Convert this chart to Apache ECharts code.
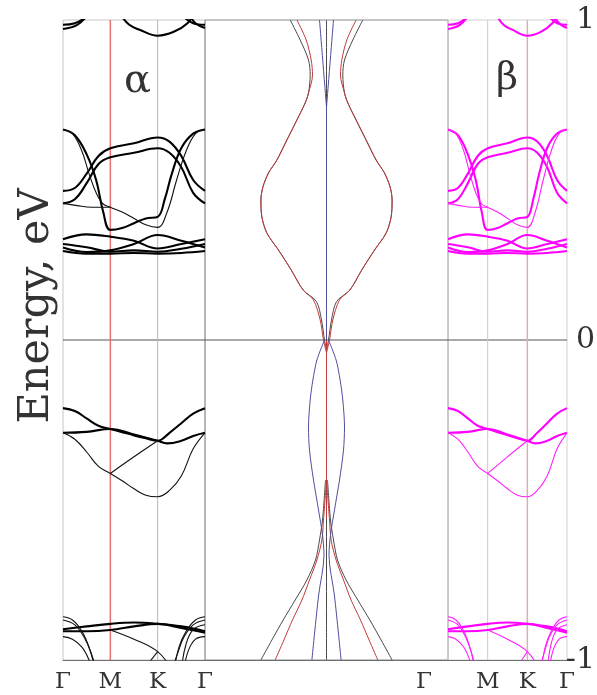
<!DOCTYPE html>
<html>
<head>
<meta charset="utf-8">
<script src="https://cdn.jsdelivr.net/npm/echarts@6/dist/echarts.min.js"></script>
<style>
  html, body { margin: 0; padding: 0; background: #fff; }
  #chart { width: 597px; height: 695px; }
</style>
</head>
<body>
<div id="chart"></div>
<script>
// k-path labels (Γ-M-K-Γ) and energy ticks
const kLabels = ['Γ', 'M', 'K', 'Γ']
const kLines = [1, 2]
const eTicks = [-1, 0, 1]

// α / β bands, x in path units (Γ=0, M=1, K=2, Γ=3), energy in eV
const bandsThick = [
  [[0, .466], [.25, .475], [.5, .52], [.75, .575], [1, .599], [1.5, .615], [2, .633], [2.25, .62], [2.5, .575], [2.75, .50], [3, .466]],
  [[0, .427], [.25, .44], [.5, .49], [.75, .55], [1, .571], [1.5, .585], [2, .599], [2.25, .585], [2.5, .54], [2.75, .46], [3, .427]],
  [[0, .658], [.25, .64], [.5, .58], [.7, .50], [.85, .40], [1, .344], [1.25, .35], [1.5, .365], [1.75, .38], [2, .385], [2.15, .44], [2.3, .52], [2.5, .60], [2.75, .645], [3, .658]],
  [[0, .30], [.5, .29], [1, .276], [1.5, .28], [2, .276], [2.5, .285], [3, .30]],
  [[0, .289], [.5, .275], [1, .28], [1.5, .30], [2, .328], [2.5, .31], [3, .289]],
  [[0, .315], [.5, .33], [1, .323], [1.5, .31], [2, .286], [2.5, .30], [3, .315]],
  [[0, .278], [.5, .27], [1, .27], [1.5, .272], [2, .27], [2.5, .272], [3, .278]],
  [[0, -.213], [.25, -.222], [.5, -.245], [.75, -.268], [1, -.278], [1.25, -.288], [1.5, -.298], [1.75, -.307], [2, -.315], [2.25, -.29], [2.5, -.26], [2.75, -.23], [3, -.213]],
  [[0, -.29], [.5, -.287], [1, -.278], [1.5, -.295], [2, -.315], [2.2, -.323], [2.5, -.315], [2.75, -.30], [3, -.29]],
  [[0, -.904], [.5, -.895], [1, -.887], [1.5, -.883], [2, -.887], [2.5, -.895], [3, -.91]],
  [[0, -.91], [.5, -.91], [1, -.906], [1.5, -.895], [2, -.887], [2.5, -.9], [3, -.915]],
  [[0, .985], [.25, .99], [.5, 1.01]],
  [[0, .972], [.3, .985], [.55, 1.02]],
  [[3, .985], [2.75, .99], [2.55, 1.01]],
  [[3, .975], [2.8, .99], [2.65, 1.02]],
  [[1.2, 1.02], [1.4, .985], [1.63, .969], [2, .951], [2.34, .963], [2.63, .99], [2.75, 1.02]]
]
const bandsThin = [
  [[0, .658], [.2, .645], [.4, .59], [.55, .52], [.7, .46], [.85, .425], [1, .415], [1.25, .40], [1.5, .38], [1.75, .36], [2, .352], [2.2, .40], [2.4, .50], [2.6, .59], [2.8, .645], [3, .658]],
  [[0, .427], [.3, .42], [.6, .415], [1, .415]],
  [[0, -.29], [.25, -.31], [.5, -.35], [.75, -.395], [1, -.417], [1.25, -.44], [1.5, -.465], [1.75, -.485], [2, -.49], [2.25, -.47], [2.5, -.425], [2.75, -.34], [3, -.29]],
  [[1, -.417], [1.5, -.365], [2, -.315]],
  [[1, -.906], [1.5, -.935], [2, -.974], [2.3, -1.03]],
  [[1.7, -1.03], [2, -.974]],
  [[0, -.865], [.2, -.875], [.4, -.91], [.55, -.96], [.68, -1.03]],
  [[0, -.875], [.25, -.89], [.45, -.93], [.6, -.98], [.7, -1.03]],
  [[0, -.927], [.2, -.935], [.4, -.96], [.55, -1.0], [.6, -1.03]],
  [[3, -.865], [2.8, -.875], [2.6, -.91], [2.45, -.96], [2.35, -1.03]],
  [[3, -.875], [2.75, -.89], [2.55, -.93], [2.42, -.98], [2.3, -1.03]],
  [[3, -.89], [2.75, -.905], [2.6, -.95], [2.5, -1.03]],
  [[3, -.927], [2.8, -.935], [2.65, -.97], [2.55, -1.03]]
]

// middle panel, x = offset from centre line
const midBlack = [
  [[-36.3, 1], [-26.3, .9375], [-18, .875], [-16.3, .828], [-18, .772], [-21.3, .741], [-29.6, .6875], [-39.6, .625], [-49.6, .5625], [-58, .522], [-63.6, .478], [-65.6, .4375], [-64.6, .384], [-59.6, .334], [-48, .281], [-35.3, .219], [-23.3, .156], [-10, .12], [-5, .0625], [-2, 0], [0, -.03]],
  [[36.3, 1], [26.3, .9375], [18, .875], [16.3, .828], [18, .772], [21.3, .741], [29.6, .6875], [39.6, .625], [49.6, .5625], [58, .522], [63.6, .478], [65.6, .4375], [64.6, .384], [59.6, .334], [48, .281], [35.3, .219], [23.3, .156], [10, .12], [5, .0625], [2, 0], [0, -.03]],
  [[-1, -.4375], [-4, -.5625], [-7, -.625], [-11, -.6875], [-19.6, -.75], [-31.3, -.8125], [-43.3, -.875], [-54.6, -.9375], [-65.6, -1]],
  [[1, -.4375], [4, -.5625], [7, -.625], [11, -.6875], [19.6, -.75], [31.3, -.8125], [43.3, -.875], [54.6, -.9375], [65.6, -1]],
  [[0, 1], [0, -1]]
]
const midRed = [
  [[-29.6, 1], [-20.3, .9375], [-15.3, .875], [-14, .828], [-18, .772], [-21.3, .741], [-29.6, .6875], [-39.6, .625], [-49.6, .5625], [-58, .522], [-63.6, .478], [-65.6, .4375], [-64.6, .384], [-59.6, .334], [-48, .281], [-35.3, .219], [-23.3, .156], [-13, .125], [-6.3, .0625], [-3, 0], [0, -.04]],
  [[29.6, 1], [20.3, .9375], [15.3, .875], [14, .828], [18, .772], [21.3, .741], [29.6, .6875], [39.6, .625], [49.6, .5625], [58, .522], [63.6, .478], [65.6, .4375], [64.6, .384], [59.6, .334], [48, .281], [35.3, .219], [23.3, .156], [13, .125], [6.3, .0625], [3, 0], [0, -.04]],
  [[0, -.4375], [-3, -.5625], [-4.6, -.625], [-9.6, -.6875], [-17, -.75], [-24.6, -.8125], [-34, -.875], [-42.6, -.9375], [-51.3, -1]],
  [[0, -.4375], [3, -.5625], [4.6, -.625], [9.6, -.6875], [17, -.75], [24.6, -.8125], [34, -.875], [42.6, -.9375], [51.3, -1]],
  [[0, 0], [0, -.56]]
]
const midBlue = [
  [[-7, 1], [0, .728]],
  [[7, 1], [0, .728]],
  [[0, .728], [0, 0]],
  [[-2, 0], [-9.6, -.0625], [-13.6, -.125], [-16.3, -.1875], [-18, -.272], [-17, -.344], [-13, -.4375], [-8, -.531], [-4, -.609], [-2.5, -.672], [-8, -.8], [-14.6, -1]],
  [[2, 0], [9.6, -.0625], [13.6, -.125], [16.3, -.1875], [18, -.272], [17, -.344], [13, -.4375], [8, -.531], [4, -.609], [2.5, -.672], [8, -.8], [14.6, -1]]
]

const serif = 'DejaVu Serif'
const chart = echarts.init(document.getElementById('chart'))

const line = (data, gi, color, width, smooth = 0.4, z = 3) => ({
  type: 'line', xAxisIndex: gi, yAxisIndex: gi, data, symbol: 'none', silent: true,
  smooth, z, lineStyle: { color, width }
})

const series = []
// zero line
series.push(line([[0, 0], [3, 0]], 0, '#555', 1, false, 1))
series.push(line([[-121.5, 0], [121.5, 0]], 1, '#555', 1, false, 1))
series.push(line([[0, 0], [3, 0]], 2, '#555', 1, false, 1))
// M and K lines
series.push(line([[kLines[0], -1], [kLines[0], 1]], 0, '#e57373', 1.5, false, 1))
series.push(line([[kLines[1], -1], [kLines[1], 1]], 0, '#dba7ae', 1, false, 1))
series.push(line([[kLines[0], -1], [kLines[0], 1]], 2, '#f3b9b9', 1, false, 1))
series.push(line([[kLines[1], -1], [kLines[1], 1]], 2, '#dcb0b0', 1.5, false, 1))
// α (black) and β (magenta)
bandsThick.forEach(b => {
  series.push(line(b, 0, '#000', 2.1))
  series.push(line(b, 2, '#ff00ff', 2.1))
})
bandsThin.forEach(b => {
  series.push(line(b, 0, '#111', 1.1))
  series.push(line(b, 2, '#ff22ff', 1.1))
})
// middle panel
midBlack.forEach(b => series.push(line(b, 1, '#4a4a4a', 1, 0.3)))
midRed.forEach(b => series.push(line(b, 1, '#c23b3b', 1, 0.3)))
midBlue.forEach(b => series.push(line(b, 1, '#4f4f9e', 1, 0.3)))

const xBase = {
  type: 'value', interval: 1, splitLine: { show: false }, axisTick: { show: false },
  axisLine: { show: true, onZero: false, lineStyle: { color: '#6f6f6f', width: 1 } }
}
const yBase = {
  type: 'value', min: -1, max: 1, interval: 1, splitLine: { show: false },
  axisTick: { show: false }, axisLine: { show: false }, axisLabel: { show: false }
}
const labelStyle = { fontFamily: serif, fontSize: 23, color: '#333', margin: 11 }
const gridBase = { top: 20, height: 640, show: true, borderWidth: 1, containLabel: false, outerBoundsMode: 'none' }

const option = {
  animation: false,
  grid: [
    { ...gridBase, left: 63, width: 142, borderColor: '#c6c6c6' },
    { ...gridBase, left: 205, width: 243, borderColor: '#8a8a8a' },
    { ...gridBase, left: 448, width: 119, borderColor: '#d0d0d0' }
  ],
  xAxis: [
    { ...xBase, gridIndex: 0, min: 0, max: 3, axisLabel: { ...labelStyle, formatter: v => kLabels[v] } },
    { ...xBase, gridIndex: 1, min: -121.5, max: 121.5, interval: 121.5, axisLabel: { show: false } },
    {
      ...xBase, gridIndex: 2, min: 0, max: 3,
      axisLabel: {
        ...labelStyle,
        formatter: v => (v === 0 ? '{g|' + kLabels[v] + '}' : kLabels[v]),
        rich: { g: { fontFamily: serif, fontSize: 23, color: '#333', padding: [0, 48, 0, 0] } }
      }
    }
  ],
  yAxis: [
    {
      ...yBase, gridIndex: 0, name: 'Energy, eV', nameLocation: 'middle', nameRotate: 90, nameGap: 5,
      nameTextStyle: { fontFamily: serif, fontSize: 43, color: '#333', padding: [0, 0, 0, 68] }
    },
    { ...yBase, gridIndex: 1 },
    {
      ...yBase, gridIndex: 2, position: 'right',
      axisLabel: {
        show: true, fontFamily: serif, fontSize: 30, color: '#333', margin: 28, align: 'right',
        formatter: v => (eTicks.includes(v) ? String(v) : '')
      }
    }
  ],
  graphic: [
    { type: 'text', left: 124, top: 62, style: { text: 'α', font: '40px "DejaVu Serif"', fill: '#333' } },
    { type: 'text', left: 496, top: 60, style: { text: 'β', font: '38px "DejaVu Serif"', fill: '#333' } }
  ],
  series
}

chart.setOption(option)
window.addEventListener('resize', () => chart.resize())
</script>
</body>
</html>
